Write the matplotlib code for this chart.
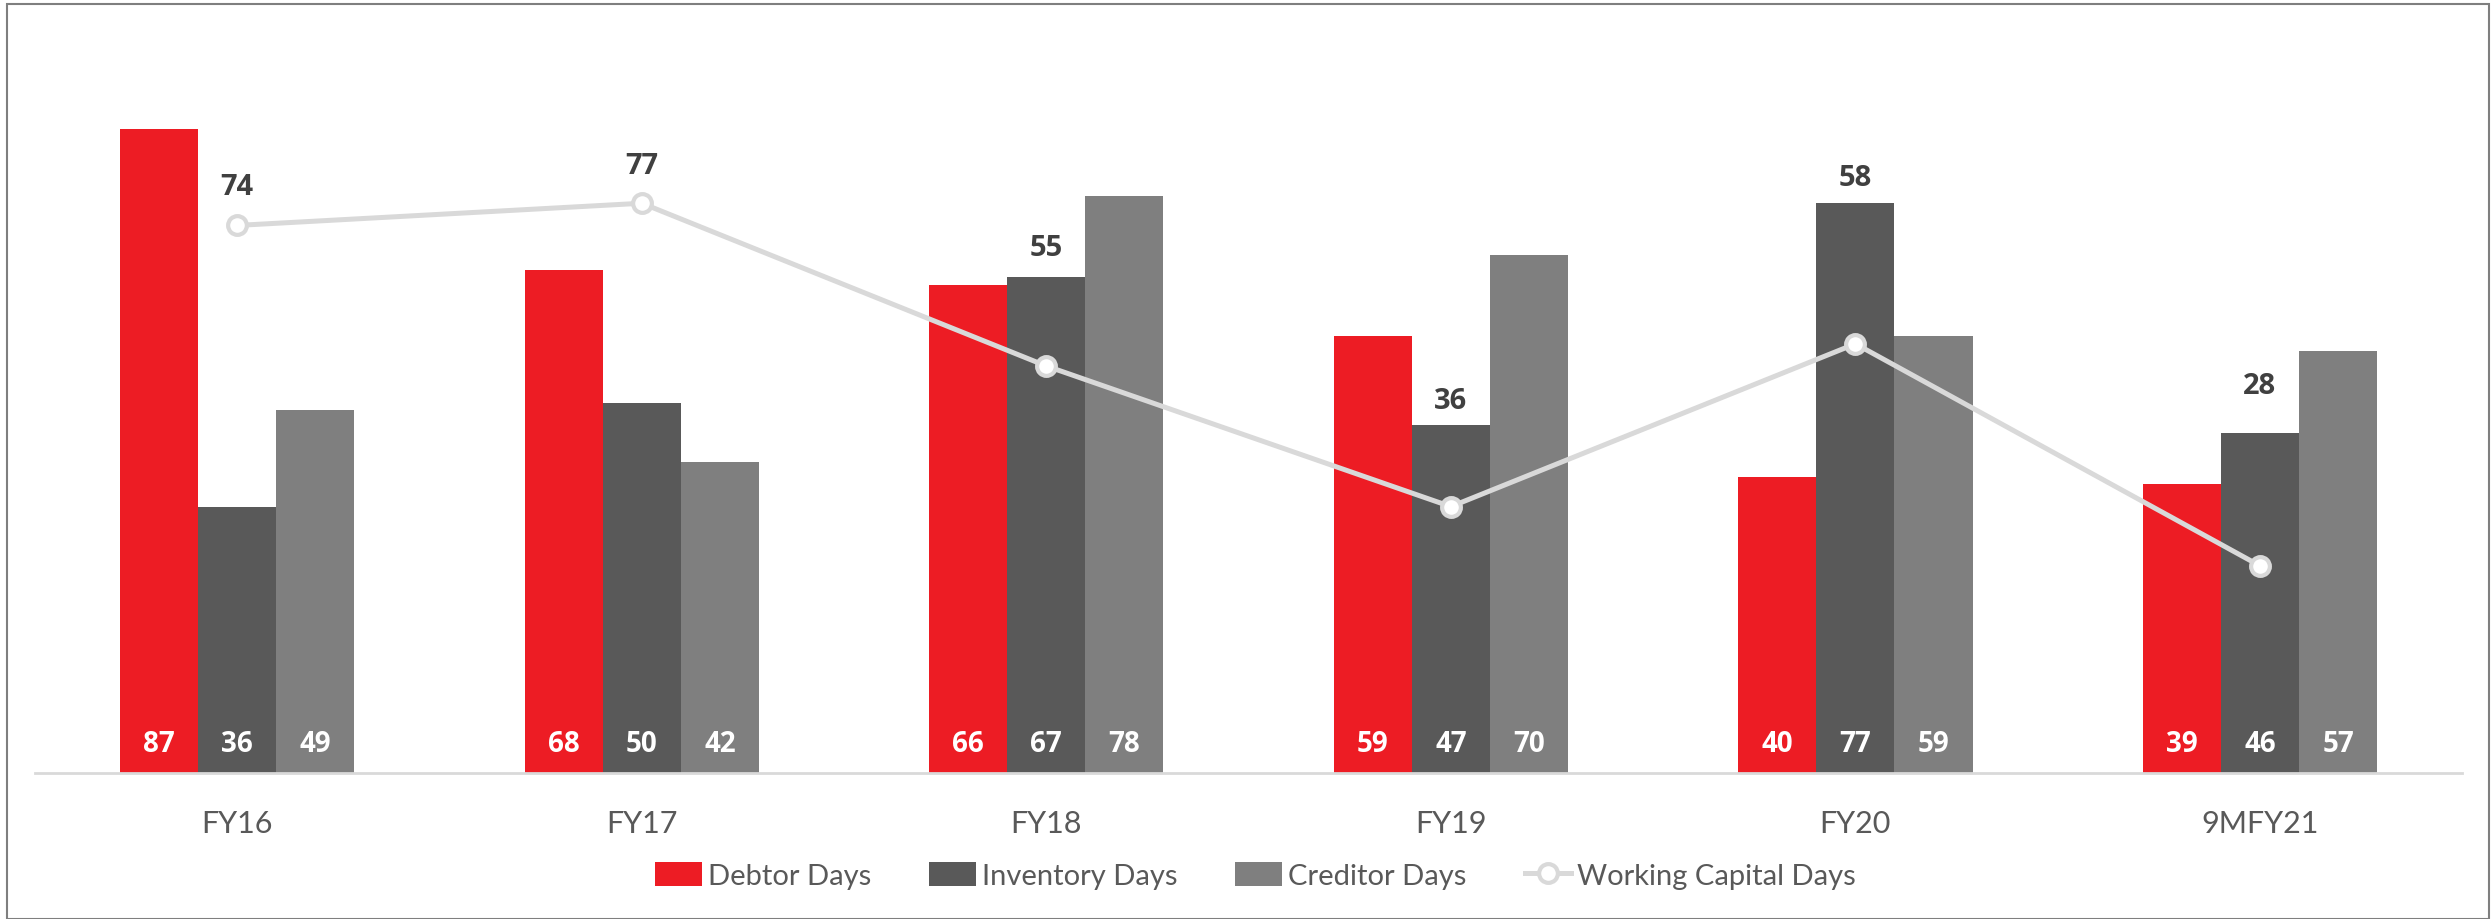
import matplotlib.pyplot as plt
import numpy as np
from matplotlib.patches import Rectangle

plt.rcParams['font.family'] = ['Lato', 'DejaVu Sans']

# data
years = ["FY16", "FY17", "FY18", "FY19", "FY20", "9MFY21"]
debtor_days = [87, 68, 66, 59, 40, 39]
inventory_days = [36, 50, 67, 47, 77, 46]
creditor_days = [49, 42, 78, 70, 59, 57]
wc_days = [74, 77, 55, 36, 58, 28]

# gap between label and the thing below it (data units)
label_gap = [5.3, 5.1, 4.0, 3.4, 3.5, 6.3]

bold_font = ['Open Sans', 'DejaVu Sans']

fig = plt.figure(figsize=(24.91, 9.2), dpi=100)
ax = fig.add_axes([0.01405, 0.1587, 0.9744, 0.8043])

x = np.arange(len(years))
w = 0.193
b1 = ax.bar(x - w, debtor_days, width=w, color="#ED1C24", label="Debtor Days")
b2 = ax.bar(x, inventory_days, width=w, color="#595959", label="Inventory Days")
b3 = ax.bar(x + w, creditor_days, width=w, color="#7F7F7F", label="Creditor Days")
ln, = ax.plot(x, wc_days, color="#D9D9D9", lw=3.6, marker="o", ms=13.5,
              mfc="white", mec="#D9D9D9", mew=3, label="Working Capital Days")

# white labels inside bars at the bottom
for off, vals in zip([-w, 0, w], [debtor_days, inventory_days, creditor_days]):
    for xi, v in zip(x + off, vals):
        ax.text(xi, 4, str(v), ha="center", va="center", color="white",
                fontsize=20, fontweight="bold", family=bold_font)

# working capital labels above line / inventory bar
for xi, v, inv, g in zip(x, wc_days, inventory_days, label_gap):
    ax.text(xi, max(v, inv) + g, str(v), ha="center", va="center",
            color="#404040", fontsize=21, fontweight="bold", family=bold_font)

ax.set_xlim(-0.5, len(years) - 0.5)
ax.set_ylim(0, 100)
ax.set_yticks([])
ax.set_xticks(x)
ax.set_xticklabels(years, fontsize=22, color="#595959")
ax.tick_params(axis="x", length=0, pad=26)
for s in ["top", "right", "left"]:
    ax.spines[s].set_visible(False)
ax.spines["bottom"].set_color("#D9D9D9")
ax.spines["bottom"].set_linewidth(2)

leg = fig.legend([b1, b2, b3, ln],
                 ["Debtor Days", "Inventory Days", "Creditor Days", "Working Capital Days"],
                 loc="center", bbox_to_anchor=(0.504, 0.047), ncol=4,
                 frameon=False, fontsize=21, handlelength=1.6,
                 handleheight=0.9, columnspacing=2.0, handletextpad=0.2)
for t in leg.get_texts():
    t.set_color("#595959")

# outer border
fig.patches.append(Rectangle((0.003, 0.0), 0.996, 0.995, transform=fig.transFigure,
                             fill=False, edgecolor="#7F7F7F", lw=1.5))

plt.savefig("out.png", dpi=100)
